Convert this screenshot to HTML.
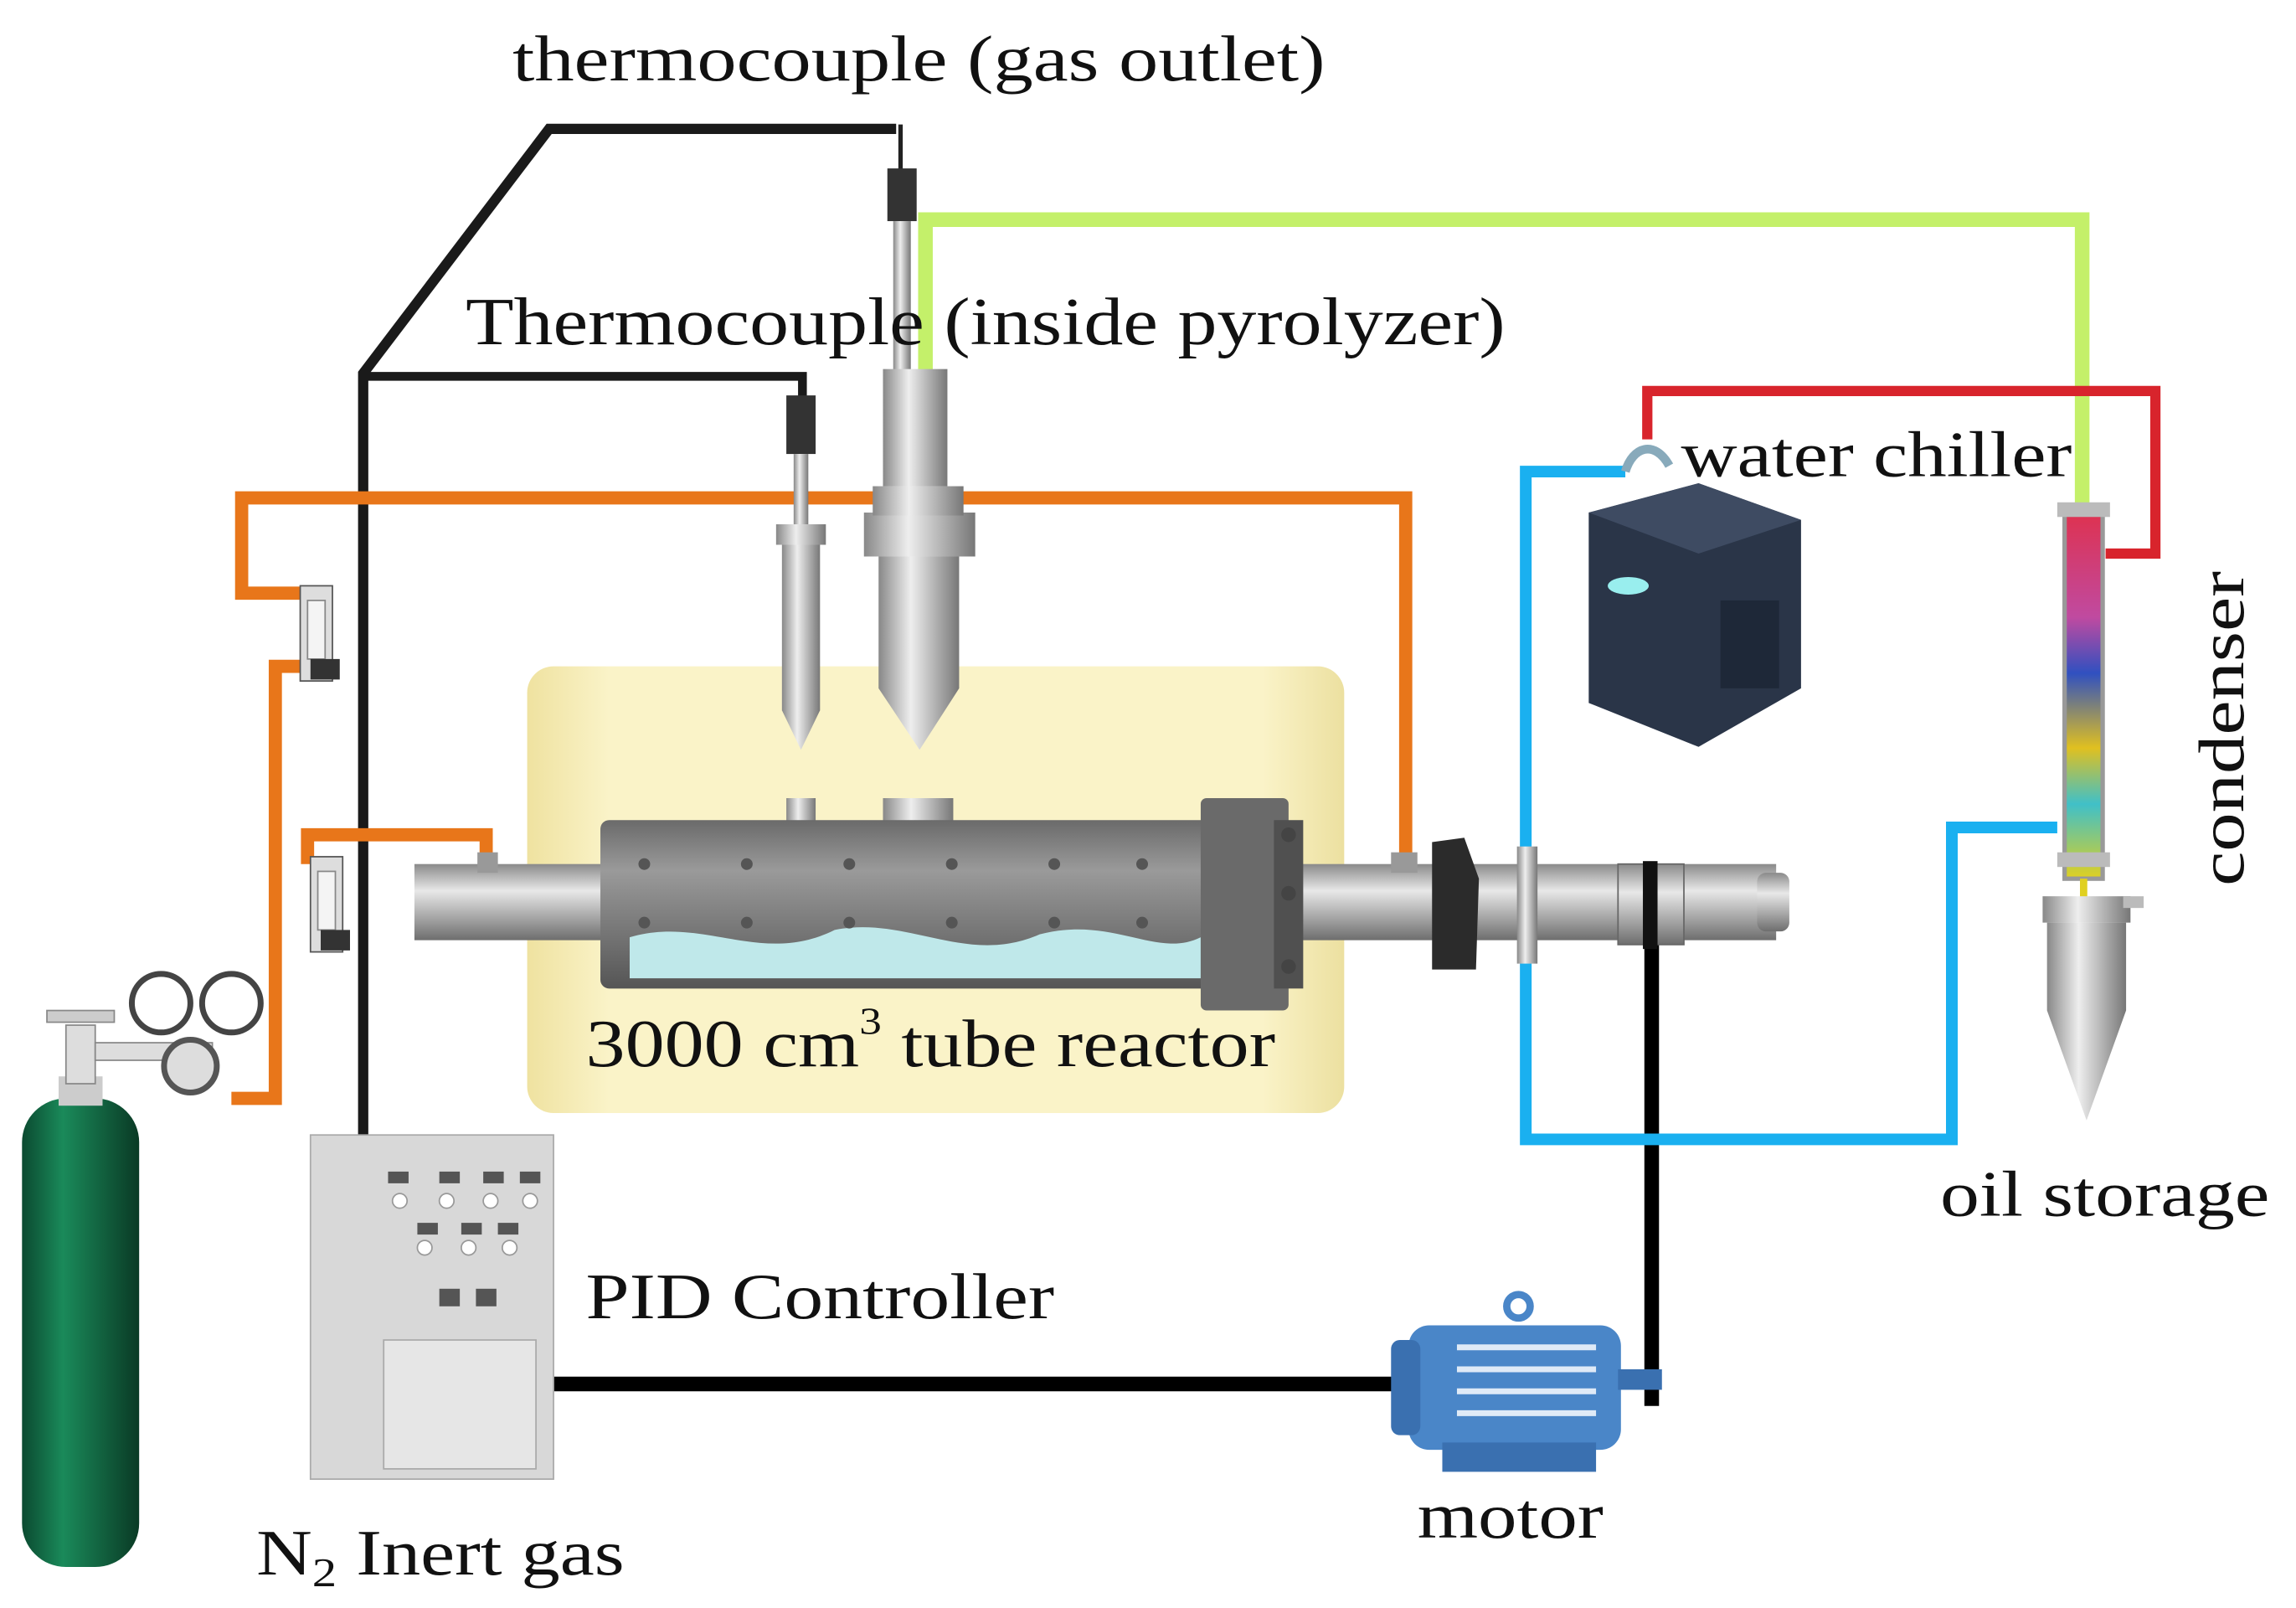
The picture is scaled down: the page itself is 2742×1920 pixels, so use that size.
<!DOCTYPE html>
<html><head><meta charset="utf-8"><style>
html,body{margin:0;padding:0;background:#fff;}
svg{display:block;}
text{font-family:"Liberation Serif",serif;fill:#111;}
</style></head><body>
<svg width="2742" height="1920" viewBox="0 0 1568 1098" xmlns="http://www.w3.org/2000/svg">
<defs>
<linearGradient id="tube" x1="0" y1="0" x2="0" y2="1"><stop offset="0" stop-color="#8a8a8a"/><stop offset="0.35" stop-color="#e8e8e8"/><stop offset="1" stop-color="#6e6e6e"/></linearGradient>
<linearGradient id="vt" x1="0" y1="0" x2="1" y2="0"><stop offset="0" stop-color="#888"/><stop offset="0.4" stop-color="#eee"/><stop offset="1" stop-color="#777"/></linearGradient>
<linearGradient id="reac" x1="0" y1="0" x2="0" y2="1"><stop offset="0" stop-color="#6a6a6a"/><stop offset="0.3" stop-color="#9a9a9a"/><stop offset="1" stop-color="#555"/></linearGradient>
<linearGradient id="furn" x1="0" y1="0" x2="1" y2="0"><stop offset="0" stop-color="#efe2a0"/><stop offset="0.1" stop-color="#faf3c8"/><stop offset="0.9" stop-color="#faf3c8"/><stop offset="1" stop-color="#ece0a0"/></linearGradient>
<linearGradient id="cond" x1="0" y1="0" x2="0" y2="1"><stop offset="0" stop-color="#e0304a"/><stop offset="0.3" stop-color="#c04aa0"/><stop offset="0.45" stop-color="#3050c0"/><stop offset="0.65" stop-color="#e0c020"/><stop offset="0.8" stop-color="#40c0c8"/><stop offset="1" stop-color="#e0d020"/></linearGradient>
<linearGradient id="cyl" x1="0" y1="0" x2="1" y2="0"><stop offset="0" stop-color="#0b4a30"/><stop offset="0.35" stop-color="#1a8a5a"/><stop offset="1" stop-color="#0a3a25"/></linearGradient>
</defs>

<rect x="360" y="455" width="558" height="305" rx="18" fill="url(#furn)"/>

<polyline points="612,88 375,88 248,255 248,780" fill="none" stroke="#1a1a1a" stroke-width="7"/>
<polyline points="248,257 548,257 548,272" fill="none" stroke="#1a1a1a" stroke-width="6"/>
<polyline points="1128,592 1128,960" fill="none" stroke="#000" stroke-width="10"/>
<line x1="378" y1="945" x2="958" y2="945" stroke="#000" stroke-width="10"/>

<g fill="none" stroke="#e8761a" stroke-width="9">
<polyline points="960,585 960,340 165,340 165,405 212,405"/>
<polyline points="212,455 188,455 188,750 158,750"/>
<polyline points="210,590 210,570 332,570 332,588"/>
</g>

<polyline points="632,255 632,150 1422,150 1422,345" fill="none" stroke="#c4f06a" stroke-width="10"/>
<polyline points="1125,300 1125,267 1472,267 1472,378 1438,378" fill="none" stroke="#d8242c" stroke-width="7"/>
<polyline points="1110,322 1042,322 1042,778 1333,778 1333,565 1405,565" fill="none" stroke="#1ab0f0" stroke-width="8"/>

<line x1="615" y1="85" x2="615" y2="118" stroke="#222" stroke-width="3"/>
<rect x="606" y="115" width="20" height="36" fill="#333"/>
<rect x="610" y="151" width="12" height="105" fill="url(#vt)"/>
<rect x="603" y="252" width="44" height="80" fill="url(#vt)"/>
<rect x="590" y="350" width="76" height="30" fill="url(#vt)"/>
<rect x="596" y="332" width="62" height="20" fill="url(#vt)"/>
<path d="M600,380 H655 V470 L628,512 L600,470 Z" fill="url(#vt)"/>
<rect x="603" y="545" width="48" height="20" fill="url(#vt)"/>
<rect x="537" y="270" width="20" height="40" fill="#333"/>
<rect x="542" y="310" width="10" height="48" fill="url(#vt)"/>
<rect x="530" y="358" width="34" height="14" fill="url(#vt)"/>
<path d="M534,372 H560 V485 L547,512 L534,485 Z" fill="url(#vt)"/>
<rect x="537" y="545" width="20" height="20" fill="url(#vt)"/>

<rect x="283" y="590" width="930" height="52" fill="url(#tube)"/>
<rect x="1200" y="596" width="22" height="40" rx="6" fill="url(#tube)"/>
<rect x="1105" y="590" width="45" height="55" fill="url(#tube)" stroke="#666"/>
<rect x="1122" y="588" width="10" height="60" fill="#111"/>
<rect x="1036" y="578" width="14" height="80" fill="url(#vt)"/>
<path d="M978,575 L1000,572 L1010,600 L1008,662 L978,662 Z" fill="#2b2b2b"/>
<rect x="326" y="582" width="14" height="14" fill="#999"/>
<rect x="950" y="582" width="18" height="14" fill="#999"/>
<rect x="410" y="560" width="420" height="115" rx="6" fill="url(#reac)"/>
<path d="M430,640 C480,625 520,660 570,635 C620,625 660,660 710,638 C760,625 790,655 820,640 L820,668 L430,668 Z" fill="#bfe8ea"/>
<g fill="#555">
<circle cx="440" cy="590" r="4"/><circle cx="510" cy="590" r="4"/><circle cx="580" cy="590" r="4"/><circle cx="650" cy="590" r="4"/><circle cx="720" cy="590" r="4"/><circle cx="780" cy="590" r="4"/>
<circle cx="440" cy="630" r="4"/><circle cx="510" cy="630" r="4"/><circle cx="580" cy="630" r="4"/><circle cx="650" cy="630" r="4"/><circle cx="720" cy="630" r="4"/><circle cx="780" cy="630" r="4"/>
</g>
<rect x="820" y="545" width="60" height="145" rx="4" fill="#6a6a6a"/>
<rect x="870" y="560" width="20" height="115" fill="#505050"/>
<g fill="#444"><circle cx="880" cy="570" r="5"/><circle cx="880" cy="610" r="5"/><circle cx="880" cy="660" r="5"/></g>

<rect x="205" y="400" width="22" height="65" fill="#ddd" stroke="#555"/><rect x="210" y="410" width="12" height="40" fill="#f4f4f4" stroke="#888"/><rect x="212" y="450" width="20" height="14" fill="#333"/>
<rect x="212" y="585" width="22" height="65" fill="#ddd" stroke="#555"/><rect x="217" y="595" width="12" height="40" fill="#f4f4f4" stroke="#888"/><rect x="219" y="635" width="20" height="14" fill="#333"/>

<path d="M1110,322 C1115,305 1130,300 1140,318" fill="none" stroke="#8ab" stroke-width="6"/>
<path d="M1085,350 L1160,330 L1230,355 L1230,470 L1160,510 L1085,480 Z" fill="#2a3548"/>
<path d="M1085,350 L1160,330 L1230,355 L1160,378 Z" fill="#3e4b62"/>
<ellipse cx="1112" cy="400" rx="14" ry="6" fill="#9ee"/>
<rect x="1175" y="410" width="40" height="60" fill="#1e2838"/>

<rect x="1410" y="345" width="26" height="255" fill="url(#cond)" stroke="#999" stroke-width="3"/>
<rect x="1405" y="343" width="36" height="10" fill="#bbb"/>
<rect x="1405" y="582" width="36" height="10" fill="#bbb"/>
<line x1="1423" y1="600" x2="1423" y2="625" stroke="#e0d020" stroke-width="5"/>
<rect x="1395" y="612" width="60" height="18" fill="url(#vt)"/>
<path d="M1398,630 H1452 V690 L1425,765 L1398,690 Z" fill="url(#vt)"/>
<rect x="1450" y="612" width="14" height="8" fill="#bbb"/>

<rect x="962" y="905" width="145" height="85" rx="14" fill="#4a86c8"/>
<rect x="950" y="915" width="20" height="65" rx="6" fill="#3a70b0"/>
<g stroke="#dfeaf7" stroke-width="4"><line x1="995" y1="920" x2="1090" y2="920"/><line x1="995" y1="935" x2="1090" y2="935"/><line x1="995" y1="950" x2="1090" y2="950"/><line x1="995" y1="965" x2="1090" y2="965"/></g>
<circle cx="1037" cy="892" r="8" fill="none" stroke="#4a86c8" stroke-width="5"/>
<rect x="985" y="985" width="105" height="20" fill="#3a70b0"/>
<rect x="1105" y="935" width="30" height="14" fill="#3a70b0"/>

<rect x="212" y="775" width="166" height="235" fill="#d8d8d8" stroke="#aaa"/>
<rect x="262" y="915" width="104" height="88" fill="#e6e6e6" stroke="#aaa"/>
<g fill="#555"><rect x="265" y="800" width="14" height="8"/><rect x="300" y="800" width="14" height="8"/><rect x="330" y="800" width="14" height="8"/><rect x="355" y="800" width="14" height="8"/>
<rect x="285" y="835" width="14" height="8"/><rect x="315" y="835" width="14" height="8"/><rect x="340" y="835" width="14" height="8"/>
<rect x="300" y="880" width="14" height="12"/><rect x="325" y="880" width="14" height="12"/></g>
<g fill="#fff" stroke="#999"><circle cx="273" cy="820" r="5"/><circle cx="305" cy="820" r="5"/><circle cx="335" cy="820" r="5"/><circle cx="362" cy="820" r="5"/><circle cx="290" cy="852" r="5"/><circle cx="320" cy="852" r="5"/><circle cx="348" cy="852" r="5"/></g>

<rect x="15" y="750" width="80" height="320" rx="30" fill="url(#cyl)"/>
<rect x="40" y="735" width="30" height="20" fill="#ccc"/>
<rect x="45" y="700" width="20" height="40" fill="#ddd" stroke="#888"/>
<rect x="32" y="690" width="46" height="8" fill="#ccc" stroke="#888"/>
<rect x="65" y="712" width="80" height="12" fill="#ddd" stroke="#888"/>
<circle cx="110" cy="685" r="20" fill="#fff" stroke="#444" stroke-width="4"/>
<circle cx="158" cy="685" r="20" fill="#fff" stroke="#444" stroke-width="4"/>
<circle cx="130" cy="728" r="18" fill="#ddd" stroke="#555" stroke-width="4"/>

<text x="350" y="55" font-size="44" textLength="555" lengthAdjust="spacingAndGlyphs">thermocouple (gas outlet)</text>
<text x="318" y="235" font-size="46" textLength="710" lengthAdjust="spacingAndGlyphs">Thermocouple (inside pyrolyzer)</text>
<text x="1148" y="325" font-size="44" textLength="267" lengthAdjust="spacingAndGlyphs">water chiller</text>
<text transform="translate(1532,605) rotate(-90)" font-size="44" textLength="215" lengthAdjust="spacingAndGlyphs">condenser</text>
<text x="1325" y="830" font-size="44" textLength="225" lengthAdjust="spacingAndGlyphs">oil storage</text>
<text transform="translate(400,728) scale(1.17,1)" font-size="46">3000 cm<tspan font-size="26" dy="-22">3</tspan><tspan dy="22"> tube reactor</tspan></text>
<text x="400" y="900" font-size="44" textLength="320" lengthAdjust="spacingAndGlyphs">PID Controller</text>
<text x="968" y="1050" font-size="44" textLength="127" lengthAdjust="spacingAndGlyphs">motor</text>
<text transform="translate(175,1075) scale(1.2,1)" font-size="44">N<tspan font-size="28" dy="8">2</tspan><tspan dy="-8"> Inert gas</tspan></text>
</svg>
</body></html>
